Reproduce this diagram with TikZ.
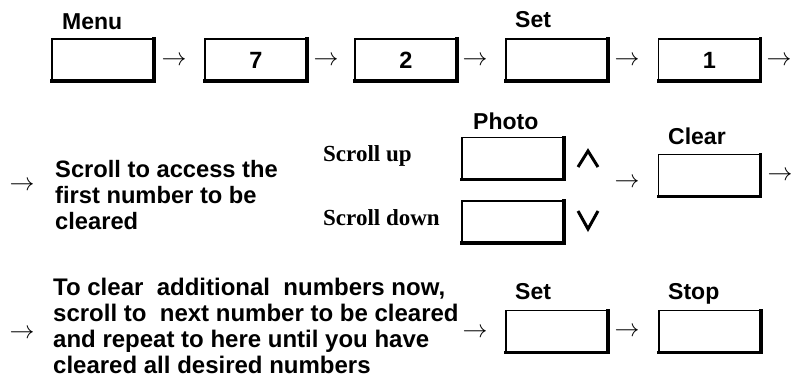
\documentclass[tikz,border=0pt]{standalone}
\usepackage{fontspec}
\setmainfont{Liberation Sans}
\newfontfamily\serifbold{Liberation Serif}
\tikzset{
  btn/.style={draw, line width=1.5pt, outer sep=0pt, inner sep=0pt,
    minimum width=102pt, minimum height=42pt, font=\fontsize{23.5}{26}\selectfont\bfseries},
  btnshade/.style={line width=3.4pt, line cap=rect},
  lbl/.style={anchor=base west, inner sep=0pt, font=\fontsize{23}{26}\selectfont\bfseries},
  slbl/.style={anchor=base west, inner sep=0pt, font=\fontsize{23}{26}\selectfont\serifbold\bfseries},
  body/.style={anchor=west, inner sep=0pt, align=left, font=\fontsize{23.7}{26}\selectfont\bfseries},
  arrowsym/.style={inner sep=0pt, font=\fontsize{24}{26}\selectfont},
  chev/.style={line width=3pt, line join=miter}
}
\begin{document}
\begin{tikzpicture}[x=1pt,y=-1pt]
\useasboundingbox (0,0) rectangle (793,379);
% Row 1
\node[btn] (b1) at (103,60) {};
\node[btn] (b2) at (256,60) {7};
\node[btn] (b3) at (406,60) {2};
\node[btn] (b4) at (557,60) {};
\node[btn] (b5) at (709.5,60) {1};
\node[lbl] (lmenu) at (62,30) {Menu};
\node[lbl] (lset1) at (515,28) {Set};
\node[arrowsym] (a1) at (174,61) {$\rightarrow$};
\node[arrowsym] (a2) at (326,61) {$\rightarrow$};
\node[arrowsym] (a3) at (475,61) {$\rightarrow$};
\node[arrowsym] (a4) at (627,61) {$\rightarrow$};
\node[arrowsym] (a5) at (779,61) {$\rightarrow$};
% Row 2
\node[arrowsym] (a6) at (22,186) {$\rightarrow$};
\node[body] (t1) at (55,195.5) {Scroll to access the\\first number to be\\cleared};
\node[slbl] (lup) at (323,162) {Scroll up};
\node[slbl] (ldown) at (323,226) {Scroll down};
\node[btn] (bup) at (513,158.5) {};
\node[btn] (bdown) at (513,222) {};
\node[lbl] (lphoto) at (473,130) {Photo};
\draw[chev] (578,167) -- (588,151) -- (598,167);
\draw[chev] (578,211) -- (588,229) -- (598,211);
\node[arrowsym] (a7) at (627,183) {$\rightarrow$};
\node[btn] (bclear) at (709.5,175.5) {};
\node[lbl] (lclear) at (668,145) {Clear};
\node[arrowsym] (a8) at (780,176) {$\rightarrow$};
% Row 3
\node[arrowsym] (a9) at (22,334) {$\rightarrow$};
\node[body, font=\fontsize{24}{26}\selectfont\bfseries] (t2) at (53,325.5) {To clear\ \ additional\ \ numbers now,\\scroll to\ \ next number to be cleared\\and repeat to here until you have\\cleared all desired numbers};
\node[arrowsym] (a10) at (475,333) {$\rightarrow$};
\node[btn] (bset2) at (557,331.5) {};
\node[lbl] (lset2) at (515,300) {Set};
\node[arrowsym] (a11) at (627,332) {$\rightarrow$};
\node[btn] (bstop) at (710,331.5) {};
\node[lbl] (lstop) at (668,300) {Stop};
% shading lines on the buttons
\foreach \n in {b1,b2,b3,b4,b5,bup,bdown,bclear,bset2,bstop}
  \draw[btnshade] (\n.north east) -- (\n.south east) -- (\n.south west);
\end{tikzpicture}
\end{document}
